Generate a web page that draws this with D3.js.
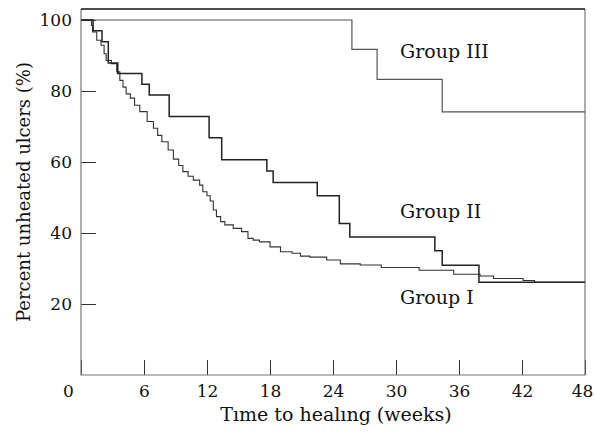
<!DOCTYPE html>
<meta charset="UTF-8">
<style>body { margin: 0; }</style>
<svg width="596" height="438"></svg>
<script src="https://cdn.jsdelivr.net/npm/d3@7"></script>
<script>

// Kaplan-Meier style step curves
var weeks1 = [0, 1.0, 1.1, 1.5, 1.9, 2.2, 2.4, 2.9, 3.4, 3.7, 4.0, 4.3, 4.7, 5.1, 5.6, 6.3, 6.9, 7.3, 7.7, 8.3, 8.8, 9.3, 9.7, 10.2, 10.7, 11.3, 11.6, 12.0, 12.3, 12.6, 12.9, 13.3, 13.7, 14.5, 15.3, 15.9, 16.4, 17.0, 18.0, 19.0, 20.1, 20.9, 21.8, 23.4, 24.7, 26.6, 28.6, 32.2, 35.5, 38.0, 39.3, 42.1, 43.2, 48];
var pct1   = [100, 98.5, 96.6, 94.3, 92.9, 90.5, 88.6, 87.7, 85.4, 83.0, 81.1, 79.2, 78.0, 76.0, 74.2, 71.4, 69.5, 67.5, 65.7, 63.4, 60.8, 59.0, 57.3, 56.0, 54.9, 53.5, 51.6, 50.5, 49.0, 46.5, 44.6, 43.2, 42.3, 41.3, 40.4, 38.5, 38.0, 37.5, 36.1, 34.7, 34.3, 33.5, 33.2, 32.4, 31.3, 31.0, 30.3, 29.5, 28.4, 27.9, 27.2, 26.6, 26.1, 26.1];

var weeks2 = [0, 1.15, 2.0, 2.6, 3.5, 5.8, 6.5, 8.4, 12.2, 13.4, 17.7, 18.3, 22.5, 24.6, 25.6, 33.7, 34.4, 37.9, 48];
var pct2   = [100, 97.0, 93.9, 87.9, 84.9, 81.9, 78.9, 72.8, 66.8, 60.6, 57.5, 54.2, 50.5, 42.7, 38.9, 35.0, 30.9, 26.1, 26.1];

var weeks3 = [0, 25.8, 28.2, 34.4, 48];
var pct3   = [100, 91.7, 83.3, 74.1, 74.1];

var xTicks = [0, 6, 12, 18, 24, 30, 36, 42, 48];
var yTicks = [20, 40, 60, 80, 100];

var groupNames = ["Group I", "Group II", "Group III"];

var svg = d3.select("svg"),
    font = "'DejaVu Serif', serif";

var x = d3.scaleLinear().domain([0, 48]).range([81, 585]),
    y = d3.scaleLinear().domain([0, 100]).range([375, 20]);

var yTop = y(103.1), yBottom = y(0);

svg.append("rect").attr("width", 596).attr("height", 438).attr("fill", "#fff");

// axes with inward ticks
var xAxis = svg.append("g")
    .attr("transform", "translate(0," + yBottom + ")")
    .call(d3.axisBottom(x).tickValues(xTicks).tickSizeInner(-15).tickSizeOuter(0).tickPadding(22));
var yAxis = svg.append("g")
    .attr("transform", "translate(" + x(0) + ",0)")
    .call(d3.axisLeft(y).tickValues(yTicks).tickSizeInner(-15).tickSizeOuter(0).tickPadding(9));

[xAxis, yAxis].forEach(function(g) {
  g.select(".domain").remove();
  g.selectAll("line").attr("stroke", "#333").attr("stroke-width", 1);
  g.selectAll("text").attr("font-family", font).attr("font-size", 17).attr("fill", "#111");
});
xAxis.selectAll("text").attr("dy", 0);
// the 0 sits a bit left of its tick in the original, the 48 a bit left of the edge
xAxis.selectAll(".tick").filter(function(d) { return d === 0; }).select("text").attr("x", -13);
xAxis.selectAll(".tick").filter(function(d) { return d === 48; }).select("text").attr("x", -3);

// frame
svg.append("path")
    .attr("d", "M" + x(0) + "," + yTop + "V" + yBottom + "H" + x(48) + "V" + yTop)
    .attr("fill", "none").attr("stroke", "#777").attr("stroke-width", 1.2);
svg.append("line")
    .attr("x1", x(0)).attr("x2", x(48)).attr("y1", yTop).attr("y2", yTop)
    .attr("stroke", "#111").attr("stroke-width", 1.6);

var line = d3.line()
    .x(function(d) { return x(d[0]); })
    .y(function(d) { return y(d[1]); })
    .curve(d3.curveStepAfter);

function pairs(w, p) { return w.map(function(v, i) { return [v, p[i]]; }); }

svg.append("path").datum(pairs(weeks3, pct3)).attr("d", line)
    .attr("fill", "none").attr("stroke", "#555").attr("stroke-width", 1.2);
svg.append("path").datum(pairs(weeks1, pct1)).attr("d", line)
    .attr("fill", "none").attr("stroke", "#333").attr("stroke-width", 1.1);
svg.append("path").datum(pairs(weeks2, pct2)).attr("d", line)
    .attr("fill", "none").attr("stroke", "#222").attr("stroke-width", 1.5);

// group labels
var labelY = [304, 218, 58];
groupNames.forEach(function(name, i) {
  svg.append("text").attr("x", 400).attr("y", labelY[i])
      .attr("font-family", font).attr("font-size", 19).attr("fill", "#111")
      .text(name);
});

// axis titles
svg.append("text")
    .attr("x", 336).attr("y", 421)
    .attr("text-anchor", "middle")
    .attr("font-family", font).attr("font-size", 19).attr("fill", "#111")
    .text("Tıme to healıng (weeks)");
svg.append("text")
    .attr("transform", "translate(30," + (yTop + yBottom) / 2 + ") rotate(-90)")
    .attr("text-anchor", "middle")
    .attr("font-family", font).attr("font-size", 18).attr("fill", "#111")
    .text("Percent unheated ulcers (%)");
</script>
